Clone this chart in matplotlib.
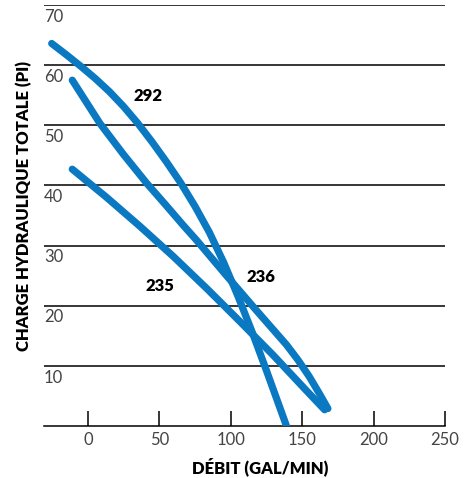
import matplotlib
matplotlib.use('Agg')
import matplotlib.pyplot as plt
from matplotlib.transforms import blended_transform_factory

plt.rcParams['font.family'] = ['Lato', 'DejaVu Sans']

# courbes (débit en gal/min, charge en pi)
x_292 = [-25.4, -15, -5, 5, 15, 25, 35, 45, 55, 65, 75, 85, 95, 105, 115, 125, 132, 139]
y_292 = [63.6, 61.7, 59.8, 57.8, 55.6, 53.1, 50.3, 47.2, 43.9, 40.4, 36.5, 32.2, 27.2, 21.6, 15.6, 9.2, 4.6, 0.0]

x_236 = [-11, 8.4, 24.7, 41, 55, 66.6, 76, 97, 118, 139, 147, 155, 162, 168]
y_236 = [57.5, 50.3, 45.2, 40.4, 36.6, 33.4, 30.9, 25.0, 19.2, 13.5, 11.0, 8.2, 5.4, 2.9]

x_235 = [-11, 13.1, 36.4, 59.7, 83, 106.3, 129.6, 152.9, 165.7]
y_235 = [42.7, 38.0, 33.2, 28.2, 22.9, 17.4, 11.8, 5.9, 2.7]

curve_labels = ['292', '236', '235']
label_x = [42.2, 120.8, 50.3]
label_y = [54.9, 24.8, 23.2]

x_ticks = [0, 50, 100, 150, 200, 250]
y_ticks = [10, 20, 30, 40, 50, 60, 70]

blue = '#0a79c2'

fig = plt.figure(figsize=(4.69, 4.78), dpi=100)
ax = fig.add_axes([44/469, 1 - 426/478, 401/469, 421/478])

for xs, ys in [(x_292, y_292), (x_236, y_236), (x_235, y_235)]:
    ax.plot(xs, ys, color=blue, lw=5.2, solid_capstyle='round', solid_joinstyle='round', zorder=3)

for lab, lx, ly in zip(curve_labels, label_x, label_y):
    ax.text(lx, ly, lab, fontsize=12, fontweight='heavy', ha='center', va='center', color='black', zorder=4)

ax.set_xlim(-30.8, 250)
ax.set_ylim(0, 70)

# lignes horizontales
for v in y_ticks:
    ax.axhline(v, color='black', lw=1.1, zorder=1)

trans = blended_transform_factory(ax.transAxes, ax.transData)
for v in y_ticks:
    ax.text(0.0, v - 1.95, str(v), transform=trans, ha='left', va='center',
            fontsize=12, color='#444444')

for s in ['top', 'right', 'left']:
    ax.spines[s].set_visible(False)
ax.spines['bottom'].set_linewidth(1.1)
ax.set_yticks([])
ax.set_xticks(x_ticks)
ax.set_xticklabels([str(t) for t in x_ticks], fontsize=12, color='#444444')
ax.tick_params(axis='x', direction='in', length=11, width=1.1, pad=4)

fig.text(260/469, 1 - 467/478, 'DÉBIT (GAL/MIN)', ha='center', va='center', fontsize=12, fontweight='heavy')
fig.text(24/469, 1 - 206/478, 'CHARGE HYDRAULIQUE TOTALE (PI)', ha='center', va='center',
         rotation=90, fontsize=12, fontweight='heavy')

fig.savefig('out.png', dpi=100)
